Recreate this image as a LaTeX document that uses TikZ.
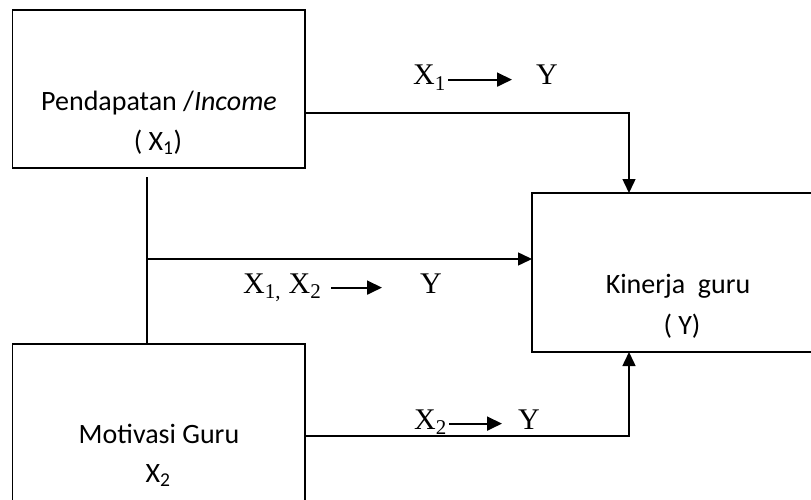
\documentclass[tikz,border=0pt]{standalone}
\usepackage{fontspec}
\setmainfont{Carlito}
\newfontfamily\serifface{Liberation Serif}
\usepackage{tikz}
\usetikzlibrary{arrows.meta, positioning}
\tikzset{
>={Triangle[length=14pt,width=13pt]}, % filled heads for the connectors
var/.style={draw, line width=1.5pt, inner sep=0pt, outer sep=0pt, anchor=north west}, % the three boxes
boxtext/.style={font=\fontsize{28}{34}\selectfont, inner sep=0pt, anchor=base}, % text inside a box
path/.style={font=\serifface\fontsize{30}{36}\selectfont, inner sep=0pt, anchor=base west}, % X -> Y labels
link/.style={->, line width=1.5pt}, % connectors between boxes
patharrow/.style={-{Triangle[length=15pt,width=14pt]}, line width=1.8pt}, % small arrows in the labels
}

\begin{document}
\begin{tikzpicture}[x=1pt, y=-1pt]
    \useasboundingbox (0,0) rectangle (811,500);

    % boxes
    \node[var, minimum width=292.5pt, minimum height=158pt] (x1) at (12.5,10) {};
    \node[var, minimum width=292.5pt, minimum height=176pt] (x2) at (12.5,344) {};
    \node[var, minimum width=298pt, minimum height=159pt] (ky) at (532,193) {};

    % box texts
    \node[boxtext] (x1name) at (159,111) {Pendapatan /\textit{Income}};
    \node[boxtext] (x1sym) at (158,150) {( X\textsubscript{1})};
    \node[boxtext] (kyname) at (678,293) {Kinerja\ \ guru};
    \node[boxtext] (kysym) at (682,334) {( Y)};
    \node[boxtext] (x2name) at (159,443) {Motivasi Guru};
    \node[boxtext] (x2sym) at (158,482) {X\textsubscript{2}};

    % bends of the connectors
    \coordinate (t1) at (629,113);
    \coordinate (t2) at (629,436);
    \coordinate (jn) at (147,177);
    \coordinate (mid) at (147,259);

    \draw[link] (x1.east |- t1) -- (t1) -- (t1 |- ky.north);
    \draw[line width=1.5pt] (jn) -- (jn |- x2.north);
    \draw[link] (mid) -- (mid -| ky.west);
    \draw[link] (x2.east |- t2) -- (t2) -- (t2 |- ky.south);

    % path labels
    \node[path] (p1a) at (413,85) {X\textsubscript{1}};
    \node[path] (p1b) at (536,85) {Y};
    \node[path] (p12a) at (243,293) {X\textsubscript{1,} X\textsubscript{2}};
    \node[path] (p12b) at (420,293) {Y};
    \node[path] (p2a) at (414,429) {X\textsubscript{2}};
    \node[path] (p2b) at (518,429) {Y};

    \draw[patharrow, shorten <=2pt, shorten >=24pt] ([yshift=3pt]p1a.mid east) -- ([yshift=3pt]p1b.mid west);
    \draw[patharrow, shorten <=10pt, shorten >=38pt] ([yshift=3pt]p12a.mid east) -- ([yshift=3pt]p12b.mid west);
    \draw[patharrow, shorten <=2pt, shorten >=16pt] ([yshift=3pt]p2a.mid east) -- ([yshift=3pt]p2b.mid west);
\end{tikzpicture}
\end{document}
